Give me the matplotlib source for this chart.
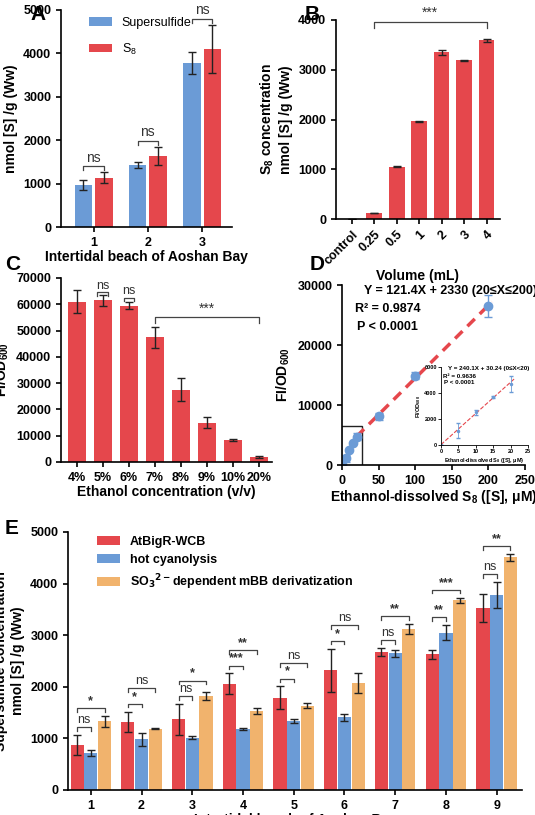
import numpy as np
import matplotlib.pyplot as plt
from matplotlib.patches import Rectangle

plt.rcParams['font.family'] = ['Liberation Sans', 'DejaVu Sans']
plt.rcParams['font.weight'] = 'bold'
plt.rcParams['axes.labelweight'] = 'bold'
plt.rcParams['axes.linewidth'] = 1.2
plt.rcParams['xtick.major.width'] = 1.2
plt.rcParams['ytick.major.width'] = 1.2
plt.rcParams['font.size'] = 9

RED = '#E5474C'
BLUE = '#6B9BD6'
ORANGE = '#F1B36D'

# panel A
a_sites = ['1', '2', '3']
a_super = [970, 1420, 3780]
a_super_err = [120, 70, 250]
a_s8 = [1140, 1630, 4100]
a_s8_err = [120, 210, 550]

# panel B
b_vol = ['control', '0.25', '0.5', '1', '2', '3', '4']
b_s8 = [0, 120, 1050, 1960, 3350, 3190, 3590]
b_err = [0, 5, 10, 10, 50, 15, 35]

# panel C
c_eth = ['4%', '5%', '6%', '7%', '8%', '9%', '10%', '20%']
c_fi = [61000, 61500, 59500, 47500, 27500, 15000, 8300, 2000]
c_err = [4500, 2000, 1300, 4000, 4300, 2000, 300, 400]

# panel D
d_x = [0, 5, 10, 15, 20, 50, 100, 200]
d_y = [0, 1100, 2500, 3700, 4700, 8100, 14900, 26500]
d_err = [0, 600, 200, 100, 600, 600, 600, 1900]

# panel E
e_sites = ['1', '2', '3', '4', '5', '6', '7', '8', '9']
e_wcb = [870, 1320, 1370, 2060, 1790, 2320, 2670, 2630, 3530]
e_wcb_err = [200, 200, 300, 200, 220, 420, 80, 90, 270]
e_cyan = [720, 980, 1010, 1180, 1330, 1410, 2650, 3050, 3780]
e_cyan_err = [60, 120, 30, 20, 40, 70, 70, 150, 250]
e_mbb = [1330, 1190, 1820, 1530, 1630, 2070, 3120, 3680, 4510]
e_mbb_err = [100, 10, 80, 60, 50, 190, 100, 50, 70]
e_sig_rb = ['ns', '*', 'ns', '***', '*', '*', 'ns', '**', 'ns']
e_sig_ro = ['*', 'ns', '*', '**', 'ns', 'ns', '**', '***', '**']

W, H = 535, 815
fig = plt.figure(figsize=(W / 100, H / 100), dpi=100)


def ax_px(x0, y0, x1, y1):
    return fig.add_axes([x0 / W, 1 - y1 / H, (x1 - x0) / W, (y1 - y0) / H])


def style(ax):
    ax.spines['top'].set_visible(False)
    ax.spines['right'].set_visible(False)
    for lab in ax.get_xticklabels() + ax.get_yticklabels():
        lab.set_fontweight('bold')


def bracket(ax, x1, x2, y, h, text, fs=9, bold=False):
    ax.plot([x1, x1, x2, x2], [y - h, y, y, y - h], color='#444444', lw=0.9)
    ax.text((x1 + x2) / 2, y + h * 0.3, text, ha='center', va='bottom', fontsize=fs,
            fontweight='bold' if bold else 'normal', color='#333333')


ek = dict(ecolor='#222222', capsize=3, error_kw=dict(elinewidth=1, capthick=1))

# ---- A
ax = ax_px(61, 10, 232, 227)
x = np.arange(len(a_sites))
w = 0.32
ax.bar(x - 0.19, a_super, w, yerr=a_super_err, color=BLUE, label='Supersulfide', **ek)
ax.bar(x + 0.19, a_s8, w, yerr=a_s8_err, color=RED, label='$\\mathregular{S_8}$', **ek)
for i in range(3):
    top = max(a_super[i] + a_super_err[i], a_s8[i] + a_s8_err[i])
    bracket(ax, x[i] - 0.19, x[i] + 0.19, top + 150, 100, 'ns', fs=10)
ax.set_ylim(0, 5000)
ax.set_xlim(-0.6, 2.55)
ax.set_xticks(x, a_sites)
ax.set_yticks(range(0, 5001, 1000))
ax.set_xlabel('Intertidal beach of Aoshan Bay', fontsize=10, labelpad=1)
ax.set_ylabel('Concentration\nnmol [S] /g (Ww)', fontsize=10)
ax.legend(loc='upper left', frameon=False, prop={'weight': 'normal', 'size': 9},
          handlelength=1.8, labelspacing=1.0, bbox_to_anchor=(0.1, 1.02))
style(ax)

# ---- B
ax = ax_px(336, 20, 500, 219)
x = np.arange(len(b_vol))
ax.bar(x, b_s8, 0.7, yerr=b_err, color=RED, **ek)
bracket(ax, 1, 6, 3960, 120, '***', fs=10)
ax.set_ylim(0, 4000)
ax.set_xlim(-0.7, 6.6)
ax.set_xticks(x, b_vol, rotation=45, ha='right', rotation_mode='anchor')
ax.set_yticks(range(0, 4001, 1000))
ax.set_xlabel('Volume (mL)', fontsize=10, labelpad=1)
ax.set_ylabel('$\\mathregular{S_8}$ concentration\nnmol [S] /g (Ww)', fontsize=10)
style(ax)

# ---- C
ax = ax_px(61, 278, 272, 462)
x = np.arange(len(c_eth))
ax.bar(x, c_fi, 0.7, yerr=c_err, color=RED, **ek)
bracket(ax, 1 - 0.2, 1 + 0.2, 64500, 1200, 'ns', fs=9)
bracket(ax, 2 - 0.2, 2 + 0.2, 62500, 1200, 'ns', fs=9)
bracket(ax, 3, 7, 55000, 2000, '***', fs=10)
ax.set_ylim(0, 70000)
ax.set_xlim(-0.6, 7.5)
ax.set_xticks(x, c_eth)
ax.set_yticks(range(0, 70001, 10000))
ax.set_xlabel('Ethanol concentration (v/v)', fontsize=10, labelpad=1)
ax.set_ylabel('FI/OD$_{\\mathregular{600}}$', fontsize=10)
style(ax)

# ---- D
ax = ax_px(342, 285, 525, 465)
xl = np.linspace(20, 205, 10)
ax.plot(xl, 121.4 * xl + 2330, ls='--', color=RED, lw=2.5, dashes=(3, 2))
ax.errorbar(d_x, d_y, yerr=d_err, fmt='o', color=BLUE, ms=6, ecolor=BLUE, capsize=3, elinewidth=1)
ax.add_patch(Rectangle((-2, -500), 30, 7000, fill=False, ec='#222222', lw=1))
ax.text(30, 29000, 'Y = 121.4X + 2330 (20\u2264X\u2264200)', fontsize=9, fontweight='bold', va='center')
ax.text(18, 26000, 'R\u00b2 = 0.9874', fontsize=9, fontweight='bold', va='center')
ax.text(20, 23000, 'P < 0.0001', fontsize=9, fontweight='bold', va='center')
ax.set_xlim(0, 250)
ax.set_ylim(0, 30000)
ax.set_xticks(range(0, 251, 50))
ax.set_yticks(range(0, 30001, 10000))
ax.set_xlabel('Ethannol-dissolved $\\mathregular{S_8}$ ([S], \u03bcM)', fontsize=10, labelpad=1)
ax.set_ylabel('FI/OD$_{\\mathregular{600}}$', fontsize=10)
style(ax)

ins = ax_px(441, 367, 528, 445)
xi = np.array([0, 21])
ins.plot(xi, 240.1 * xi + 30.24, ls='--', color=RED, lw=0.8)
ins.errorbar(d_x[:5], d_y[:5], yerr=d_err[:5], fmt='o', color=BLUE, ms=1.5, ecolor=BLUE,
             capsize=1.5, elinewidth=0.6)
ins.set_xlim(0, 25)
ins.set_ylim(0, 6000)
ins.set_xticks(range(0, 26, 5))
ins.set_yticks(range(0, 6001, 2000))
ins.tick_params(labelsize=4, length=2, width=0.6, pad=1)
for s in ins.spines.values():
    s.set_linewidth(0.6)
ins.set_xlabel('Ethanol-dissolved $\\mathregular{S_8}$ ([S], \u03bcM)', fontsize=4, labelpad=1)
ins.set_ylabel('FI/OD$_{\\mathregular{600}}$', fontsize=4, labelpad=1)
ins.text(2, 5900, 'Y = 240.1X + 30.24 (0\u2264X<20)', fontsize=4.5, va='center')
ins.text(0.5, 5300, 'R\u00b2 = 0.9636', fontsize=4.5, va='center')
ins.text(1, 4800, 'P < 0.0001', fontsize=4.5, va='center')
style(ins)

# ---- E
ax = ax_px(68, 532, 522, 790)
x = np.arange(len(e_sites))
w = 0.26
off = 0.27
ax.bar(x - off, e_wcb, w, yerr=e_wcb_err, color=RED, label='AtBigR-WCB', **ek)
ax.bar(x, e_cyan, w, yerr=e_cyan_err, color=BLUE, label='hot cyanolysis', **ek)
ax.bar(x + off, e_mbb, w, yerr=e_mbb_err, color=ORANGE,
       label='SO$_3$$^{2-}$dependent mBB derivatization', **ek)
for i in range(len(e_sites)):
    t_r = e_wcb[i] + e_wcb_err[i]
    t_b = e_cyan[i] + e_cyan_err[i]
    t_o = e_mbb[i] + e_mbb_err[i]
    y1 = max(t_r, t_b) + 150
    bracket(ax, x[i] - off, x[i], y1, 70, e_sig_rb[i], fs=9, bold=('*' in e_sig_rb[i]))
    y2 = max(y1 + 300, t_o + 150)
    bracket(ax, x[i] - off, x[i] + off, y2, 70, e_sig_ro[i], fs=9, bold=('*' in e_sig_ro[i]))
ax.set_ylim(0, 5000)
ax.set_xlim(-0.45, 8.5)
ax.set_xticks(x, e_sites)
ax.set_yticks(range(0, 5001, 1000))
ax.set_xlabel('Intertidal beach of Aoshan Bay', fontsize=10, labelpad=1)
ax.set_ylabel('Supersulfide concentration\nnmol [S] /g (Ww)', fontsize=10)
ax.legend(loc='upper left', frameon=False, fontsize=9, handlelength=1.8,
          bbox_to_anchor=(0.04, 1.03))
style(ax)

for lab, (px, py) in zip('ABCDE', [(30, 15), (305, 15), (5, 265), (310, 265), (5, 528)]):
    fig.text(px / W, 1 - py / H, lab, fontsize=15, fontweight='bold', va='center')

fig.savefig('out.png', dpi=100)
